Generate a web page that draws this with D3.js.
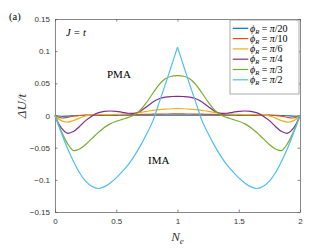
<!DOCTYPE html>
<html>
<head>
<meta charset="utf-8">
<script src="https://d3js.org/d3.v7.min.js"></script>
<style>
  body { margin: 0; background: #fff; }
  svg { display: block; }
</style>
</head>
<body>
<div id="chart"></div>
<script>
// x values (N_e)
var ne = [0, 0.05, 0.1, 0.15, 0.2, 0.25, 0.3, 0.35, 0.4, 0.45, 0.5, 0.55, 0.6, 0.65, 0.7, 0.75, 0.8, 0.85, 0.9, 0.95, 1,
    1.05, 1.1, 1.15, 1.2, 1.25, 1.3, 1.35, 1.4, 1.45, 1.5, 1.55, 1.6, 1.65, 1.7, 1.75, 1.8, 1.85, 1.9, 1.95, 2];

// series values (Delta U / t)
var phiPi20 = [0, -0.0012, -0.001, -0.0004, 0, 0.0002, 0.0003, 0.0003, 0.0003, 0.0003, 0.0003, 0.0004, 0.0004, 0.0005, 0.0005, 0.0006, 0.0006, 0.0007, 0.0007, 0.0007, 0.0007,
    0.0007, 0.0007, 0.0007, 0.0006, 0.0006, 0.0005, 0.0005, 0.0004, 0.0004, 0.0003, 0.0003, 0.0003, 0.0003, 0.0003, 0.0003, 0.0002, 0, -0.0004, -0.001, -0.0012, 0];
var phiPi10 = [0, -0.0038, -0.003, -0.001, 0, 0.0006, 0.0008, 0.0009, 0.001, 0.001, 0.0011, 0.0012, 0.0013, 0.0014, 0.0016, 0.0018, 0.002, 0.0022, 0.0023, 0.0024, 0.0025,
    0.0024, 0.0023, 0.0022, 0.002, 0.0018, 0.0016, 0.0014, 0.0013, 0.0012, 0.0011, 0.001, 0.001, 0.0009, 0.0008, 0.0006, 0, -0.001, -0.003, -0.0038, 0];
var phiPi6 = [0, -0.008, -0.0102, -0.008, -0.004, -0.0005, 0.001, 0.0015, 0.0015, 0.0015, 0.0016, 0.002, 0.0026, 0.0035, 0.005, 0.0065, 0.008, 0.0092, 0.01, 0.0105, 0.0107,
    0.0105, 0.01, 0.0092, 0.008, 0.0065, 0.005, 0.0035, 0.0026, 0.002, 0.0016, 0.0015, 0.0015, 0.0015, 0.001, -0.0005, -0.004, -0.008, -0.0102, -0.008, 0];
var phiPi4 = [0, -0.019, -0.0275, -0.025, -0.017, -0.008, -0.001, 0.004, 0.0065, 0.007, 0.0065, 0.005, 0.0035, 0.0035, 0.007, 0.014, 0.021, 0.026, 0.0285, 0.0295, 0.0298,
    0.0295, 0.0285, 0.026, 0.021, 0.014, 0.007, 0.0035, 0.0035, 0.005, 0.0065, 0.007, 0.0065, 0.004, -0.001, -0.008, -0.017, -0.025, -0.0275, -0.019, 0];
var phiPi3 = [0, -0.024, -0.043, -0.0545, -0.052, -0.045, -0.036, -0.027, -0.019, -0.013, -0.009, -0.006, -0.003, 0.001, 0.009, 0.021, 0.035, 0.048, 0.057, 0.061, 0.062,
    0.061, 0.057, 0.048, 0.035, 0.021, 0.009, 0.001, -0.003, -0.006, -0.009, -0.013, -0.019, -0.027, -0.036, -0.045, -0.052, -0.0545, -0.043, -0.024, 0];
var phiPi2 = [0, -0.026, -0.05, -0.071, -0.089, -0.102, -0.11, -0.1135, -0.111, -0.105, -0.097, -0.087, -0.076, -0.062, -0.046, -0.028, -0.008, 0.02, 0.048, 0.077, 0.106,
    0.077, 0.048, 0.02, -0.008, -0.028, -0.046, -0.062, -0.076, -0.087, -0.097, -0.105, -0.111, -0.1135, -0.11, -0.102, -0.089, -0.071, -0.05, -0.026, 0];

// legend labels (denominator of pi/n)
var denoms = ["20", "10", "6", "4", "3", "2"];
var colors = ["#0072BD", "#D95319", "#EDB120", "#7E2F8E", "#77AC30", "#4DBEEE"];
var allSeries = [phiPi20, phiPi10, phiPi6, phiPi4, phiPi3, phiPi2];

// tick values
var xTicks = [0, 0.5, 1, 1.5, 2];
var yTicks = [-0.15, -0.1, -0.05, 0, 0.05, 0.1, 0.15];

var W = 332, H = 249;
var margin = { top: 19, right: 32, bottom: 37, left: 55 },
    width = W - margin.left - margin.right,
    height = H - margin.top - margin.bottom;

var svg = d3.select("#chart")
    .append("svg")
    .attr("width", W)
    .attr("height", H)
    .append("g")
    .attr("transform", "translate(" + margin.left + "," + margin.top + ")");

var x = d3.scaleLinear().domain([0, 2]).range([0, width]);
var y = d3.scaleLinear().domain([-0.15, 0.15]).range([height, 0]);

var axisColor = "#555";
var tickFont = "Liberation Sans, Arial, sans-serif";
var serif = "Liberation Serif, Times New Roman, serif";

// axes, ticks pointing inward (MATLAB style)
function styleAxis(g) {
    g.select(".domain").attr("stroke", axisColor).attr("stroke-width", 0.7);
    g.selectAll(".tick line").attr("stroke", axisColor).attr("stroke-width", 0.7);
    g.selectAll(".tick text").attr("fill", "#333").style("font-family", tickFont).style("font-size", "8px");
}

svg.append("g")
    .attr("transform", "translate(0," + height + ")")
    .call(d3.axisBottom(x).tickValues(xTicks).tickSizeInner(-2.5).tickSizeOuter(0).tickPadding(6)
        .tickFormat(d3.format("")))
    .call(styleAxis);
svg.append("g")
    .call(d3.axisTop(x).tickValues(xTicks).tickSizeInner(-2.5).tickSizeOuter(0).tickFormat(""))
    .call(styleAxis);
svg.append("g")
    .call(d3.axisLeft(y).tickValues(yTicks).tickSizeInner(-2.5).tickSizeOuter(0).tickPadding(5)
        .tickFormat(function (d) { return Math.abs(d) < 1e-9 ? "0" : d3.format("")(+d.toFixed(2)); }))
    .call(styleAxis);
svg.append("g")
    .attr("transform", "translate(" + width + ",0)")
    .call(d3.axisRight(y).tickValues(yTicks).tickSizeInner(-2.5).tickSizeOuter(0).tickFormat(""))
    .call(styleAxis);

// curves
var line = d3.line()
    .x(function (d) { return x(d[0]); })
    .y(function (d) { return y(d[1]); })
    .curve(d3.curveCatmullRom.alpha(0.5));

allSeries.forEach(function (vals, i) {
    var pts = ne.map(function (n, k) { return [n, vals[k]]; });
    // the pi/2 curve has a cusp at N_e = 1, so draw it as two pieces
    var pieces = (i === 5) ? [pts.slice(0, 21), pts.slice(20)] : [pts];
    pieces.forEach(function (p) {
        svg.append("path")
            .datum(p)
            .attr("fill", "none")
            .attr("stroke", colors[i])
            .attr("stroke-width", 1.2)
            .attr("d", line);
    });
});

// text annotations
svg.append("text")
    .attr("x", 66 - margin.left).attr("y", 36 - margin.top)
    .style("font-family", serif).style("font-size", "10.5px").style("font-style", "italic")
    .text("J = t");
svg.append("text")
    .attr("x", 107 - margin.left).attr("y", 78 - margin.top)
    .style("font-family", serif).style("font-size", "11px")
    .text("PMA");
svg.append("text")
    .attr("x", 148 - margin.left).attr("y", 164 - margin.top)
    .style("font-family", serif).style("font-size", "11px")
    .text("IMA");

// panel label
svg.append("text")
    .attr("x", 9 - margin.left).attr("y", 20 - margin.top)
    .style("font-family", serif).style("font-size", "10.5px")
    .text("(a)");

// axis labels
svg.append("text")
    .attr("transform", "translate(" + (26 - margin.left) + "," + (106 - margin.top) + ") rotate(-90)")
    .attr("text-anchor", "middle")
    .attr("fill", "#333")
    .style("font-family", serif).style("font-size", "13px").style("font-style", "italic")
    .text("ΔU/t");

var xl = svg.append("text")
    .attr("x", width / 2).attr("y", 241 - margin.top)
    .attr("text-anchor", "middle")
    .attr("fill", "#333")
    .style("font-family", serif).style("font-size", "13px").style("font-style", "italic");
xl.append("tspan").text("N");
xl.append("tspan").attr("dy", 3).style("font-size", "9px").text("e");

// legend
var lg = svg.append("g").attr("transform", "translate(" + (230 - margin.left) + "," + (20 - margin.top) + ")");
lg.append("rect")
    .attr("width", 69).attr("height", 74)
    .attr("fill", "#fff").attr("stroke", "#888").attr("stroke-width", 0.7);

denoms.forEach(function (dn, i) {
    var yy = 8.3 + i * 10.3;
    lg.append("line")
        .attr("x1", 2.7).attr("x2", 18.3).attr("y1", yy).attr("y2", yy)
        .attr("stroke", colors[i]).attr("stroke-width", 1.2);
    var t = lg.append("text")
        .attr("x", 20).attr("y", yy + 3.2)
        .style("font-family", serif).style("font-size", "10px");
    t.append("tspan").style("font-style", "italic").text("ϕ");
    t.append("tspan").attr("dy", 2).style("font-size", "6.5px").style("font-style", "italic").text("R");
    t.append("tspan").attr("dy", -2).text(" = ");
    t.append("tspan").style("font-style", "italic").text("π");
    t.append("tspan").text("/" + dn);
});
</script>
</body>
</html>
